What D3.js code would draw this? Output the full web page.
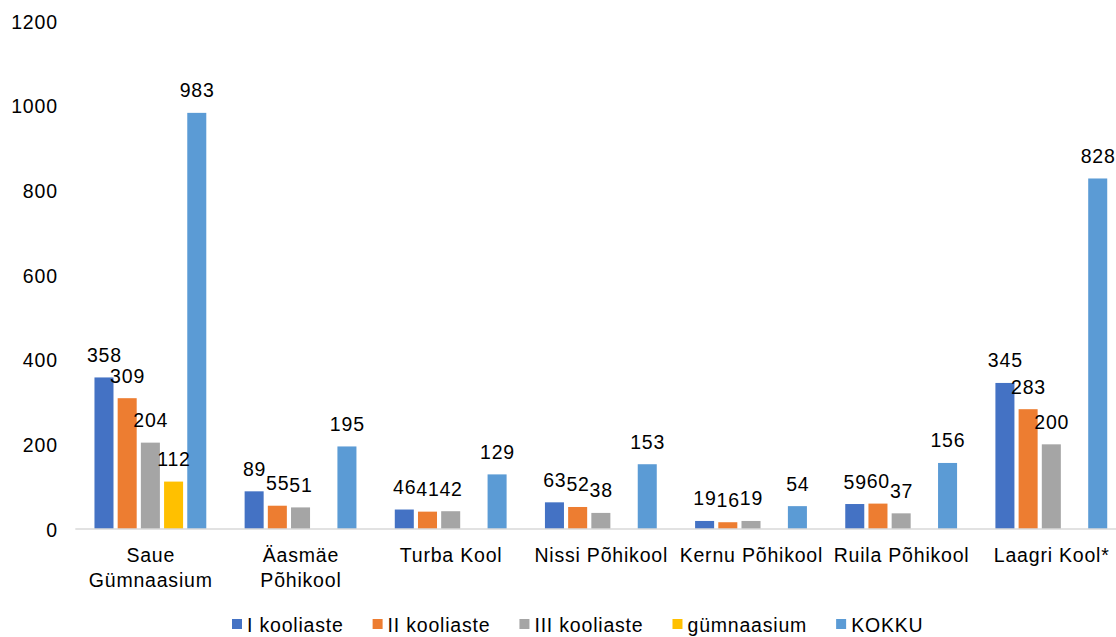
<!DOCTYPE html>
<html>
<head>
<meta charset="utf-8">
<script src="https://cdn.jsdelivr.net/npm/d3@7"></script>
<style>
  html, body { margin: 0; padding: 0; background: #fff; }
  svg text { font-family: "Liberation Sans", Arial, sans-serif; fill: #000; }
</style>
</head>
<body>
<svg id="chart" width="1116" height="637"></svg>
<script>
// ---- Data ----
const categories = [["Saue", "Gümnaasium"], ["Äasmäe", "Põhikool"], ["Turba Kool"], ["Nissi Põhikool"], ["Kernu Põhikool"], ["Ruila Põhikool"], ["Laagri Kool*"]];
const categoryKeys = categories.map(c => c.join(" "));
const seriesNames = ["I kooliaste", "II kooliaste", "III kooliaste", "gümnaasium", "KOKKU"];
const seriesColors = ["#4472C4", "#ED7D31", "#A5A5A5", "#FFC000", "#5B9BD5"];
const kooliaste1 = [358, 89, 46, 63, 19, 59, 345];
const kooliaste2 = [309, 55, 41, 52, 16, 60, 283];
const kooliaste3 = [204, 51, 42, 38, 19, 37, 200];
const gymnaasium = [112, null, null, null, null, null, null];
const kokku      = [983, 195, 129, 153, 54, 156, 828];
const seriesValues = [kooliaste1, kooliaste2, kooliaste3, gymnaasium, kokku];
const yTicks = [0, 200, 400, 600, 800, 1000, 1200];

// ---- Layout ----
const svg = d3.select("#chart");
const plot = { left: 75.3, right: 1126.4, top: 21, bottom: 529 };
const FS = 19.5, LS = 0.8;

const x0 = d3.scaleBand().domain(categoryKeys).range([plot.left, plot.right])
  .paddingInner(0.2275).paddingOuter(0.11375);
const x1 = d3.scaleBand().domain(seriesNames).range([0, x0.bandwidth()])
  .paddingInner(0.18).paddingOuter(0.09);
const y = d3.scaleLinear().domain([0, 1200]).range([plot.bottom, plot.top]);

// y axis labels (no axis line, no gridlines)
const yAxis = d3.axisLeft(y).tickValues(yTicks).tickFormat(d3.format("d")).tickSize(0).tickPadding(0);
const yg = svg.append("g").attr("transform", `translate(${57 + LS},0)`).call(yAxis);
yg.select(".domain").remove();
yg.selectAll("text").attr("font-size", FS).attr("letter-spacing", LS)
  .style("font-family", '"Liberation Sans", Arial, sans-serif').attr("fill", "#000").attr("dy", "0.36em");

// bars
const groups = svg.append("g").selectAll("g").data(categoryKeys).join("g")
  .attr("transform", d => `translate(${x0(d)},0)`);

groups.each(function(cat, ci) {
  const g = d3.select(this);
  const rows = seriesNames.map((s, si) => ({ s, si, v: seriesValues[si][ci] })).filter(r => r.v != null);
  g.selectAll("rect").data(rows).join("rect")
    .attr("x", r => x1(r.s))
    .attr("width", x1.bandwidth())
    .attr("y", r => y(r.v))
    .attr("height", r => y(0) - y(r.v))
    .attr("fill", r => seriesColors[r.si]);
  g.selectAll("text").data(rows).join("text")
    .attr("x", r => x1(r.s) + x1.bandwidth() / 2 + LS / 2)
    .attr("y", r => y(r.v) - 15.5)
    .attr("text-anchor", "middle")
    .attr("font-size", FS)
    .attr("letter-spacing", LS)
    .text(r => r.v);
});

// baseline
svg.append("line").attr("x1", plot.left).attr("x2", 1116)
  .attr("y1", y(0)).attr("y2", y(0))
  .attr("stroke", "#D9D9D9").attr("stroke-width", 1.5);

// category labels
const xl = svg.append("g");
categories.forEach((lines, i) => {
  const cx = x0(categoryKeys[i]) + x0.bandwidth() / 2;
  const t = xl.append("text").attr("text-anchor", "middle").attr("font-size", FS)
    .attr("letter-spacing", LS);
  lines.forEach((ln, li) => {
    t.append("tspan").attr("x", cx + LS / 2).attr("y", 562 + li * 25).text(ln);
  });
});

// legend
const legend = svg.append("g");
let lx = 232;
seriesNames.forEach((name, i) => {
  legend.append("rect").attr("x", lx).attr("y", 619).attr("width", 10).attr("height", 10)
    .attr("fill", seriesColors[i]);
  const t = legend.append("text").attr("x", lx + 15).attr("y", 632)
    .attr("font-size", FS).attr("letter-spacing", LS).text(name);
  const w = t.node().getComputedTextLength();
  lx = lx + 15 + w + 29;
});
</script>
</body>
</html>
